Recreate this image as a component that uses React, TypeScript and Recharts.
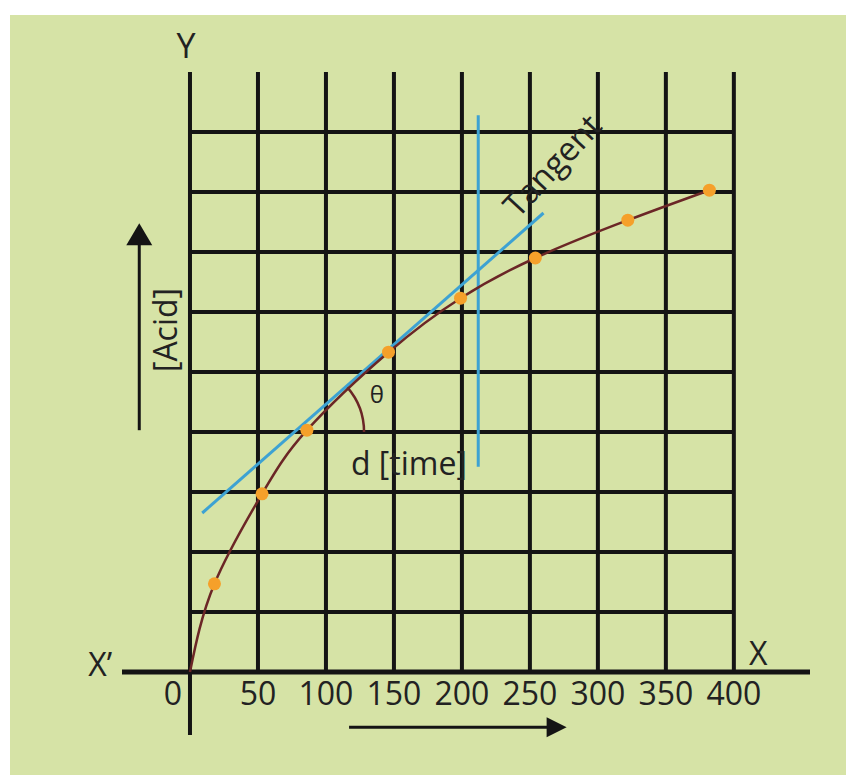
import { ComposedChart, Line, XAxis, YAxis, ReferenceLine, ReferenceDot } from "recharts";

// readings: time vs [acid]
const timeValues = [0, 18, 53, 86, 146, 199, 254, 322, 382];
const acidValues = [0, 1.47, 2.97, 4.03, 5.33, 6.23, 6.9, 7.53, 8.03];
const timeTicks = [0, 50, 100, 150, 200, 250, 300, 350, 400];
const acidGrid = [1, 2, 3, 4, 5, 6, 7, 8, 9];

const tangentStart = { x: 9, y: 2.65 };
const tangentEnd = { x: 260, y: 7.65 };
const guide = { x: 212, from: 3.42, to: 9.28 };
const angleCorner = { x: 78, y: 4 };

const data = timeValues.map((t, i) => ({ time: t, acid: acidValues[i] }));

const notes = [
  { text: "Y", x: -3, y: 10.45, size: 34, angle: 0 },
  { text: "X\u2019", x: -66, y: 0.15, size: 32, angle: 0 },
  { text: "X", x: 418, y: 0.32, size: 32, angle: 0 },
  { text: "[Acid]", x: -19, y: 5.7, size: 32, angle: -90 },
  { text: "Tangent", x: 266, y: 8.45, size: 33, angle: -47 },
  { text: "\u03b8", x: 137.5, y: 4.65, size: 24, angle: 0 },
  { text: "d [time]", x: 161, y: 3.5, size: 32, angle: 0 },
];

const INK = "#141414";
const CURVE = "#6b2626";
const BLUE = "#3da2d3";
const DOT = "#f5a02a";
const FONT = "'Open Sans', sans-serif";

const TimeTick = (p: any) => {
  const v = p.payload.value;
  return (
    <text
      x={v === 0 ? p.x - 8 : p.x}
      y={p.y - 51}
      textAnchor={v === 0 ? "end" : "middle"}
      dominantBaseline="central"
      fontSize={32}
      fontFamily={FONT}
      fill="#222"
    >
      {v}
    </text>
  );
};

const CurveDot = (p: any) => {
  if (p.index === 0) return <g key={p.index} />;
  return <circle key={p.index} cx={p.cx} cy={p.cy} r={6.5} fill={DOT} />;
};

export default function App() {
  return (
    <div style={{ position: "absolute", left: 0, top: 0, width: 846, height: 775, background: "#fff" }}>
      <div style={{ position: "absolute", left: 10, top: 15, width: 836, height: 760, background: "#d6e3a6" }} />
      <div style={{ position: "absolute", left: 0, top: 0 }}>
        <ComposedChart width={846} height={775} data={data} margin={{ top: 72, right: 36, bottom: 39, left: 122 }}>
          <XAxis
            dataKey="time"
            type="number"
            domain={[-50, 456]}
            allowDataOverflow
            ticks={timeTicks}
            interval={0}
            height={1}
            axisLine={false}
            tickLine={false}
            tick={<TimeTick />}
          />
          <YAxis type="number" domain={[-1.05, 10]} allowDataOverflow hide />

          {acidGrid.map((g) => (
            <ReferenceLine key={"h" + g} segment={[{ x: 0, y: g }, { x: 400, y: g }]} stroke={INK} strokeWidth={4} />
          ))}
          {timeTicks.slice(1).map((t) => (
            <ReferenceLine key={"v" + t} segment={[{ x: t, y: 0 }, { x: t, y: 10 }]} stroke={INK} strokeWidth={4} />
          ))}
          <ReferenceLine segment={[{ x: 0, y: -1.05 }, { x: 0, y: 10 }]} stroke={INK} strokeWidth={4} />
          <ReferenceLine segment={[{ x: -50, y: 0 }, { x: 456, y: 0 }]} stroke={INK} strokeWidth={5} />

          <ReferenceLine segment={[tangentStart, tangentEnd]} stroke={BLUE} strokeWidth={3} />
          <ReferenceLine segment={[{ x: guide.x, y: guide.from }, { x: guide.x, y: guide.to }]} stroke={BLUE} strokeWidth={3} />

          <Line
            type="natural"
            dataKey="acid"
            stroke={CURVE}
            strokeWidth={2.5}
            dot={<CurveDot />}
            activeDot={false}
            isAnimationActive={false}
          />

          {/* angle arc between tangent and the horizontal */}
          <ReferenceDot
            x={angleCorner.x}
            y={angleCorner.y}
            r={1}
            ifOverflow="visible"
            shape={(p: any) => {
              const r = 68;
              const a = (41 * Math.PI) / 180;
              return (
                <path
                  d={`M ${p.cx + r * Math.cos(a)} ${p.cy - r * Math.sin(a)} A ${r} ${r} 0 0 1 ${p.cx + r} ${p.cy}`}
                  fill="none"
                  stroke={CURVE}
                  strokeWidth={2.5}
                />
              );
            }}
          />

          {/* direction arrows */}
          <ReferenceLine segment={[{ x: 117, y: -0.92 }, { x: 265, y: -0.92 }]} stroke={INK} strokeWidth={3} ifOverflow="visible" />
          <ReferenceDot
            x={277}
            y={-0.92}
            r={1}
            ifOverflow="visible"
            shape={(p: any) => <path d={`M ${p.cx} ${p.cy} L ${p.cx - 20} ${p.cy - 10} L ${p.cx - 20} ${p.cy + 10} Z`} fill={INK} />}
          />
          <ReferenceLine segment={[{ x: -37.3, y: 4.03 }, { x: -37.3, y: 7.2 }]} stroke={INK} strokeWidth={3} ifOverflow="visible" />
          <ReferenceDot
            x={-37.3}
            y={7.48}
            r={1}
            ifOverflow="visible"
            shape={(p: any) => <path d={`M ${p.cx} ${p.cy} L ${p.cx - 13} ${p.cy + 22} L ${p.cx + 13} ${p.cy + 22} Z`} fill={INK} />}
          />

          {notes.map((n) => (
            <ReferenceDot
              key={n.text}
              x={n.x}
              y={n.y}
              r={1}
              ifOverflow="visible"
              shape={(p: any) => (
                <text
                  x={p.cx}
                  y={p.cy}
                  textAnchor="middle"
                  dominantBaseline="central"
                  fontSize={n.size}
                  fontFamily={FONT}
                  fill="#222"
                  transform={n.angle ? `rotate(${n.angle} ${p.cx} ${p.cy})` : undefined}
                >
                  {n.text}
                </text>
              )}
            />
          ))}
        </ComposedChart>
      </div>
    </div>
  );
}
